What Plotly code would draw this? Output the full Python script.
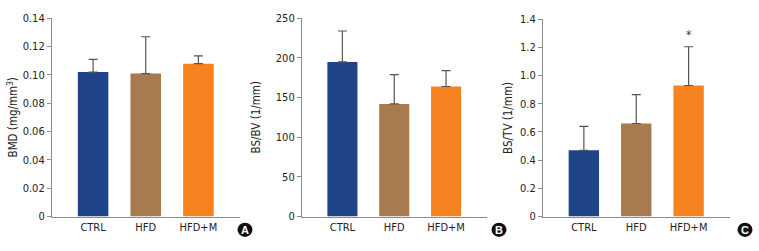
import plotly.graph_objects as go

W, H = 759, 251

categories = ["CTRL", "HFD", "HFD+M"]
colors = ["#1f4489", "#a87a50", "#f5821f"]

bmd_mean = [0.102, 0.101, 0.108]
bmd_err = [0.009, 0.026, 0.0055]

bsbv_mean = [195, 142, 164]
bsbv_err = [39, 37, 20]

bstv_mean = [0.47, 0.66, 0.93]
bstv_err = [0.17, 0.205, 0.275]

panel_letters = ["A", "B", "C"]
y_titles = ["BMD (mg/mm<sup>3</sup>)", "BS/BV (1/mm)", "BS/TV (1/mm)"]
y_ranges = [[0, 0.14], [0, 250], [0, 1.4]]
y_dticks = [0.02, 50, 0.2]
y_formats = [".2f", "d", ".1f"]

FONT = "DejaVu Sans Condensed, Liberation Sans Narrow, sans-serif"

fig = go.Figure()

datasets = [(bmd_mean, bmd_err), (bsbv_mean, bsbv_err), (bstv_mean, bstv_err)]
x_px = [(52, 240), (302, 487), (543, 730)]
y_top_px = [13, 13, 14]
y_bot_px = 222
title_x_px = [13, 256, 508]

for i, (m, e) in enumerate(datasets):
    ax = "" if i == 0 else str(i + 1)
    fig.add_trace(go.Bar(
        x=categories, y=m,
        marker=dict(color=colors, line=dict(width=0)),
        width=0.58,
        error_y=dict(type="data", array=e, symmetric=False, arrayminus=[0]*3,
                     color="#555555", thickness=1.2, width=4.5),
        xaxis="x" + ax, yaxis="y" + ax, showlegend=False,
    ))
    x0, x1 = x_px[i]
    y0d = (H - y_bot_px) / H
    y1d = (H - y_top_px[i]) / H
    fig.update_layout(**{
        "xaxis" + ax: dict(
            domain=[x0 / W, x1 / W], range=[-0.78, 2.79],
            showline=True, linecolor="#8c8c8c", linewidth=1.2,
            ticks="", showgrid=False, zeroline=False,
            tickfont=dict(family=FONT, size=11, color="#222222"),
            anchor="y" + ax, fixedrange=True,
        ),
        "yaxis" + ax: dict(
            domain=[y0d, y1d],
            range=y_ranges[i], dtick=y_dticks[i], tick0=0,
            showline=True, linecolor="#8c8c8c", linewidth=1.2,
            ticks="outside", ticklen=4, tickcolor="#8c8c8c", tickwidth=1,
            showgrid=False, zeroline=False,
            tickfont=dict(family=FONT, size=11, color="#222222"),
            anchor="x" + ax, fixedrange=True,
        ),
    })
    # y-axis title
    fig.add_annotation(x=title_x_px[i] / W, y=(y0d + y1d) / 2, xref="paper", yref="paper",
                       text=y_titles[i], textangle=-90, showarrow=False,
                       xanchor="center", yanchor="middle",
                       font=dict(family=FONT, size=11.5, color="#222222"))

# zero tick label as "0"
for i, ax in enumerate(["yaxis", "yaxis2", "yaxis3"]):
    lo, hi = y_ranges[i]
    n = int(round(hi / y_dticks[i]))
    vals = [round(k * y_dticks[i], 6) for k in range(n + 1)]
    texts = ["0"] + [format(v, y_formats[i]) for v in vals[1:]]
    fig.layout[ax].tickvals = vals
    fig.layout[ax].ticktext = texts

# significance marker
fig.add_annotation(x="HFD+M", y=bstv_mean[2] + bstv_err[2], xref="x3", yref="y3",
                   text="*", showarrow=False, yanchor="bottom", yshift=3,
                   font=dict(family=FONT, size=12, color="#444444"))

# panel letters
circle_centers = [(245, 236), (499, 236), (745, 236)]
r = 7.5
for (cx, cy), letter in zip(circle_centers, panel_letters):
    fig.add_shape(type="circle", xref="paper", yref="paper",
                  x0=(cx - r) / W, x1=(cx + r) / W,
                  y0=(H - cy - r) / H, y1=(H - cy + r) / H,
                  fillcolor="#111111", line=dict(width=0))
    fig.add_annotation(x=cx / W, y=(H - cy) / H, xref="paper", yref="paper",
                       text="<b>" + letter + "</b>", showarrow=False,
                       xanchor="center", yanchor="middle",
                       font=dict(family="Liberation Sans, Arial, sans-serif", size=11, color="white"))

fig.update_layout(
    width=W, height=H,
    margin=dict(l=0, r=0, t=0, b=0),
    paper_bgcolor="white", plot_bgcolor="white",
    font=dict(family=FONT),
)

fig.write_html("out.html", config={"displayModeBar": False},
               post_script="document.body.style.margin='0';document.body.style.overflow='hidden';")
